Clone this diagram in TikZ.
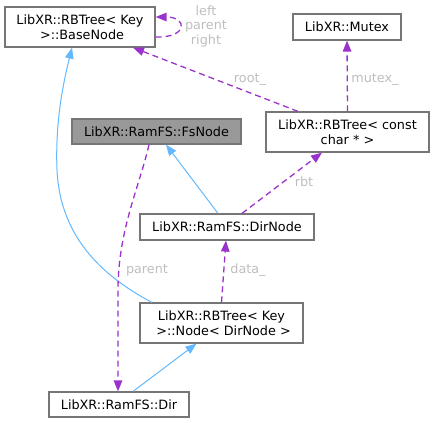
\documentclass[tikz,border=0pt]{standalone}
\usepackage{fontspec}
\setmainfont{DejaVu Sans}
\usepackage{xcolor}
\usetikzlibrary{arrows.meta,shapes,calc,positioning}
\definecolor{edgepurple}{RGB}{154,50,205}
\definecolor{edgeblue}{RGB}{99,184,255}
\definecolor{boxgray}{RGB}{118,118,118}
\definecolor{labelgray}{RGB}{190,190,190}
\definecolor{fillgray}{RGB}{153,153,153}
\begin{document}
\begin{tikzpicture}[x=1pt, y=-1pt,
		classbox/.style={draw=boxgray, line width=1.2pt, inner sep=0pt, align=center, font=\fontsize{12.8}{14.5}\selectfont},
		member/.style={draw=edgepurple, line width=1.3pt, dash pattern=on 6pt off 4pt, -{Triangle[length=11pt,width=8.5pt]}},
		derived/.style={draw=edgeblue, line width=1pt, -{Triangle[length=11pt,width=8.5pt]}},
		edgelabel/.style={text=labelgray, inner sep=0pt, align=center, font=\fontsize{12.8}{14.5}\selectfont}]
		\useasboundingbox (0,0) rectangle (434,423);
		\node [classbox, minimum width=150pt, minimum height=40pt] (basenode) at (80,27) {LibXR::RBTree< Key\\\ >::BaseNode};
		\node [classbox, minimum width=108pt, minimum height=26pt] (mutex) at (347,27) {LibXR::Mutex};
		\node [classbox, minimum width=163pt, minimum height=40pt] (rbtree) at (347.5,132) {LibXR::RBTree< const\\char * >};
		\node [classbox, fill=fillgray, minimum width=169pt, minimum height=25pt] (fsnode) at (156.5,131.5) {LibXR::RamFS::FsNode};
		\node [classbox, minimum width=174pt, minimum height=26pt] (dirnode) at (227,227) {LibXR::RamFS::DirNode};
		\node [classbox, minimum width=163pt, minimum height=40pt] (treenode) at (221.5,323) {LibXR::RBTree< Key\\\ >::Node< DirNode >};
		\node [classbox, minimum width=140pt, minimum height=25pt] (dir) at (119,404.5) {LibXR::RamFS::Dir};
		\draw [member] ([yshift=-10pt]basenode.east) .. controls (188,38) and (188,17) .. ([yshift=10pt]basenode.east);
		\draw [member] ([xshift=-49.5pt]rbtree.north) -- ([xshift=53pt]basenode.south);
		\draw [member] (rbtree.north) -- (mutex.south);
		\draw [member] ([xshift=15pt]dirnode.north) -- ([xshift=-25.5pt]rbtree.south);
		\draw [derived] ([xshift=-9pt]dirnode.north) -- ([xshift=9.5pt]fsnode.south);
		\draw [member] (treenode.north) -- ([xshift=-1pt]dirnode.south);
		\draw [derived] ([xshift=-69.5pt]treenode.north) .. controls (100,275) and (60,235) .. (57,170) .. controls (55,120) and (64,80) .. ([xshift=-8pt]basenode.south);
		\draw [derived] ([xshift=14pt]dir.north) -- ([xshift=-25pt]treenode.south);
		\draw [member] ([xshift=-7.5pt]fsnode.south) .. controls (140,185) and (118,230) .. (118,290) -- ([xshift=-1pt]dir.north);
		\node [edgelabel] (loopname) at (206,26) {left\\parent\\right};
		\node [edgelabel] (rootname) at (250,80) {root\_};
		\node [edgelabel] (mutexname) at (375,80) {mutex\_};
		\node [edgelabel] (rbtname) at (304,182) {rbt};
		\node [edgelabel] (dataname) at (248,270) {data\_};
		\node [edgelabel] (parentname) at (147,270) {parent};
\end{tikzpicture}
\end{document}
